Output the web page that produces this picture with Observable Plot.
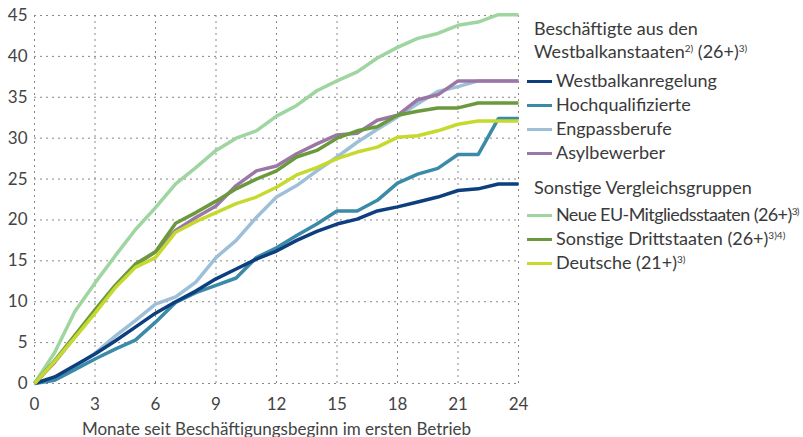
<!DOCTYPE html>
<html>
<head>
<meta charset="utf-8">
<script src="https://cdn.jsdelivr.net/npm/d3@7"></script>
<script src="https://cdn.jsdelivr.net/npm/@observablehq/plot@0.6"></script>
<style>
  html, body { margin: 0; padding: 0; background: #fff; }
  #wrap { position: relative; width: 803px; height: 437px; font-family: Lato, "Noto Sans", sans-serif; }
  .lg { position: absolute; color: #3a3a3a; font-size: 18px; line-height: 22px; height: 22px; white-space: nowrap; }
  .lg .sw { display: inline-block; width: 25px; height: 3.5px; margin-right: 4px; vertical-align: middle; position: relative; top: -1px; }
  .lg sup { font-size: 10px; vertical-align: 6px; line-height: 0; }
</style>
</head>
<body>
<div id="wrap"></div>
<script>
const months = [0,1,2,3,4,5,6,7,8,9,10,11,12,13,14,15,16,17,18,19,20,21,22,23,24];
const xTicks = [0,3,6,9,12,15,18,21,24];
const yTicks = [0,5,10,15,20,25,30,35,40,45];

const westbalkan   = [0,0.8,2.2,3.6,5.2,6.9,8.6,10.0,11.3,12.8,14.0,15.2,16.2,17.5,18.6,19.5,20.1,21.1,21.6,22.2,22.8,23.6,23.8,24.4,24.4];
const hochqual     = [0,0.4,1.7,3.0,4.2,5.3,7.5,9.9,11.1,12.0,12.9,15.4,16.6,18.1,19.5,21.1,21.1,22.4,24.5,25.6,26.3,28.0,28.0,32.4,32.4];
const engpass      = [0,0.7,2.0,3.7,5.8,7.7,9.7,10.6,12.4,15.4,17.5,20.3,22.8,24.2,26.0,27.7,29.5,31.1,32.6,34.2,35.7,36.3,37.0,37.0,37.0];
const asyl         = [0,2.6,5.7,8.9,11.9,14.5,16.1,18.7,20.3,21.7,24.2,26.0,26.6,28.1,29.3,30.4,30.6,32.2,32.8,34.7,35.3,37.0,37.0,37.0,37.0];
const neueEU       = [0,3.8,8.8,12.3,15.6,18.8,21.5,24.4,26.4,28.5,30.0,30.9,32.7,34.0,35.8,37.0,38.1,39.8,41.1,42.2,42.8,43.8,44.2,45.1,45.1];
const drittstaaten = [0,2.8,5.9,9.0,12.0,14.6,16.1,19.6,20.9,22.3,23.8,25.0,26.0,27.7,28.5,30.0,30.9,31.4,32.8,33.3,33.7,33.7,34.3,34.3,34.3];
const deutsche     = [0,2.7,5.6,8.6,11.7,14.2,15.4,18.5,19.8,20.9,22.0,22.8,24.0,25.5,26.4,27.5,28.3,28.9,30.1,30.3,30.9,31.7,32.1,32.1,32.1];

const series = [
  {key: "engpass", label: "Engpassberufe", values: engpass, color: "#9dbfd8"},
  {key: "hochqual", label: "Hochqualifizierte", values: hochqual, color: "#3b8aa7"},
  {key: "westbalkan", label: "Westbalkanregelung", values: westbalkan, color: "#0d3f7e"},
  {key: "neueEU", label: "Neue EU-Mitgliedsstaaten", values: neueEU, color: "#9fd5a0"},
  {key: "asyl", label: "Asylbewerber", values: asyl, color: "#9c77a5"},
  {key: "drittstaaten", label: "Sonstige Drittstaaten", values: drittstaaten, color: "#6b9a3c"},
  {key: "deutsche", label: "Deutsche", values: deutsche, color: "#c5d92e"}
];

const rows = [];
series.forEach(s => s.values.forEach((v, i) => rows.push({series: s.key, month: months[i], value: v})));

const chart = Plot.plot({
  width: 803,
  height: 437,
  marginLeft: 34,
  marginRight: 285,
  marginTop: 15,
  marginBottom: 54,
  style: {fontFamily: "Lato, 'Noto Sans', sans-serif", fontSize: "17px", color: "#444", background: "#fff"},
  x: {domain: [0, 24], ticks: xTicks, tickSize: 0, tickPadding: 14, label: null},
  y: {domain: [0, 45], ticks: yTicks, tickSize: 0, tickPadding: 7, label: null},
  color: {domain: series.map(s => s.key), range: series.map(s => s.color)},
  marks: [
    Plot.gridX(xTicks, {stroke: "#888", strokeOpacity: 1, strokeDasharray: "2,4", strokeWidth: 1}),
    Plot.gridY(yTicks, {stroke: "#888", strokeOpacity: 1, strokeDasharray: "2,4", strokeWidth: 1}),
    Plot.axisX({ticks: xTicks, tickSize: 0, tickPadding: 14, label: null}),
    Plot.axisY({ticks: yTicks, tickSize: 0, tickPadding: 7, label: null}),
    Plot.line(rows, {x: "month", y: "value", z: "series", stroke: "series", strokeWidth: 3.5, strokeLinejoin: "miter", strokeLinecap: "butt"}),
    Plot.text(["Monate seit Beschäftigungsbeginn im ersten Betrieb"], {frameAnchor: "bottom", dy: 51, fontSize: 17, fill: "#444"})
  ]
});

const wrap = document.getElementById("wrap");
wrap.appendChild(chart);

const byKey = Object.fromEntries(series.map(s => [s.key, s]));
const legendRows = [
  {y: 28, html: "Beschäftigte aus den", head: true},
  {y: 51, html: "Westbalkanstaaten<sup>2)</sup> (26+)<sup>3)</sup>", head: true},
  {y: 80, key: "westbalkan", extra: ""},
  {y: 104, key: "hochqual", extra: ""},
  {y: 128, key: "engpass", extra: ""},
  {y: 152, key: "asyl", extra: ""},
  {y: 187, html: "Sonstige Vergleichsgruppen", head: true},
  {y: 214, key: "neueEU", extra: " (26+)<sup>3)</sup>"},
  {y: 238, key: "drittstaaten", extra: " (26+)<sup>3)4)</sup>"},
  {y: 262, key: "deutsche", extra: " (21+)<sup>3)</sup>"}
];
legendRows.forEach(r => {
  const d = document.createElement("div");
  d.className = "lg";
  d.style.top = (r.y - 11) + "px";
  d.style.left = (r.head ? 534 : 527) + "px";
  d.innerHTML = r.head ? r.html
    : `<span class="sw" style="background:${byKey[r.key].color}"></span>${byKey[r.key].label}${r.extra}`;
  wrap.appendChild(d);
  // keep within the picture: tighten letters if a row would pass the right edge
  const maxW = 801 - (r.head ? 534 : 527);
  let ls = 0;
  while (d.scrollWidth > maxW && ls > -1.2) { ls -= 0.1; d.style.letterSpacing = ls.toFixed(2) + "px"; }
});
</script>
</body>
</html>
